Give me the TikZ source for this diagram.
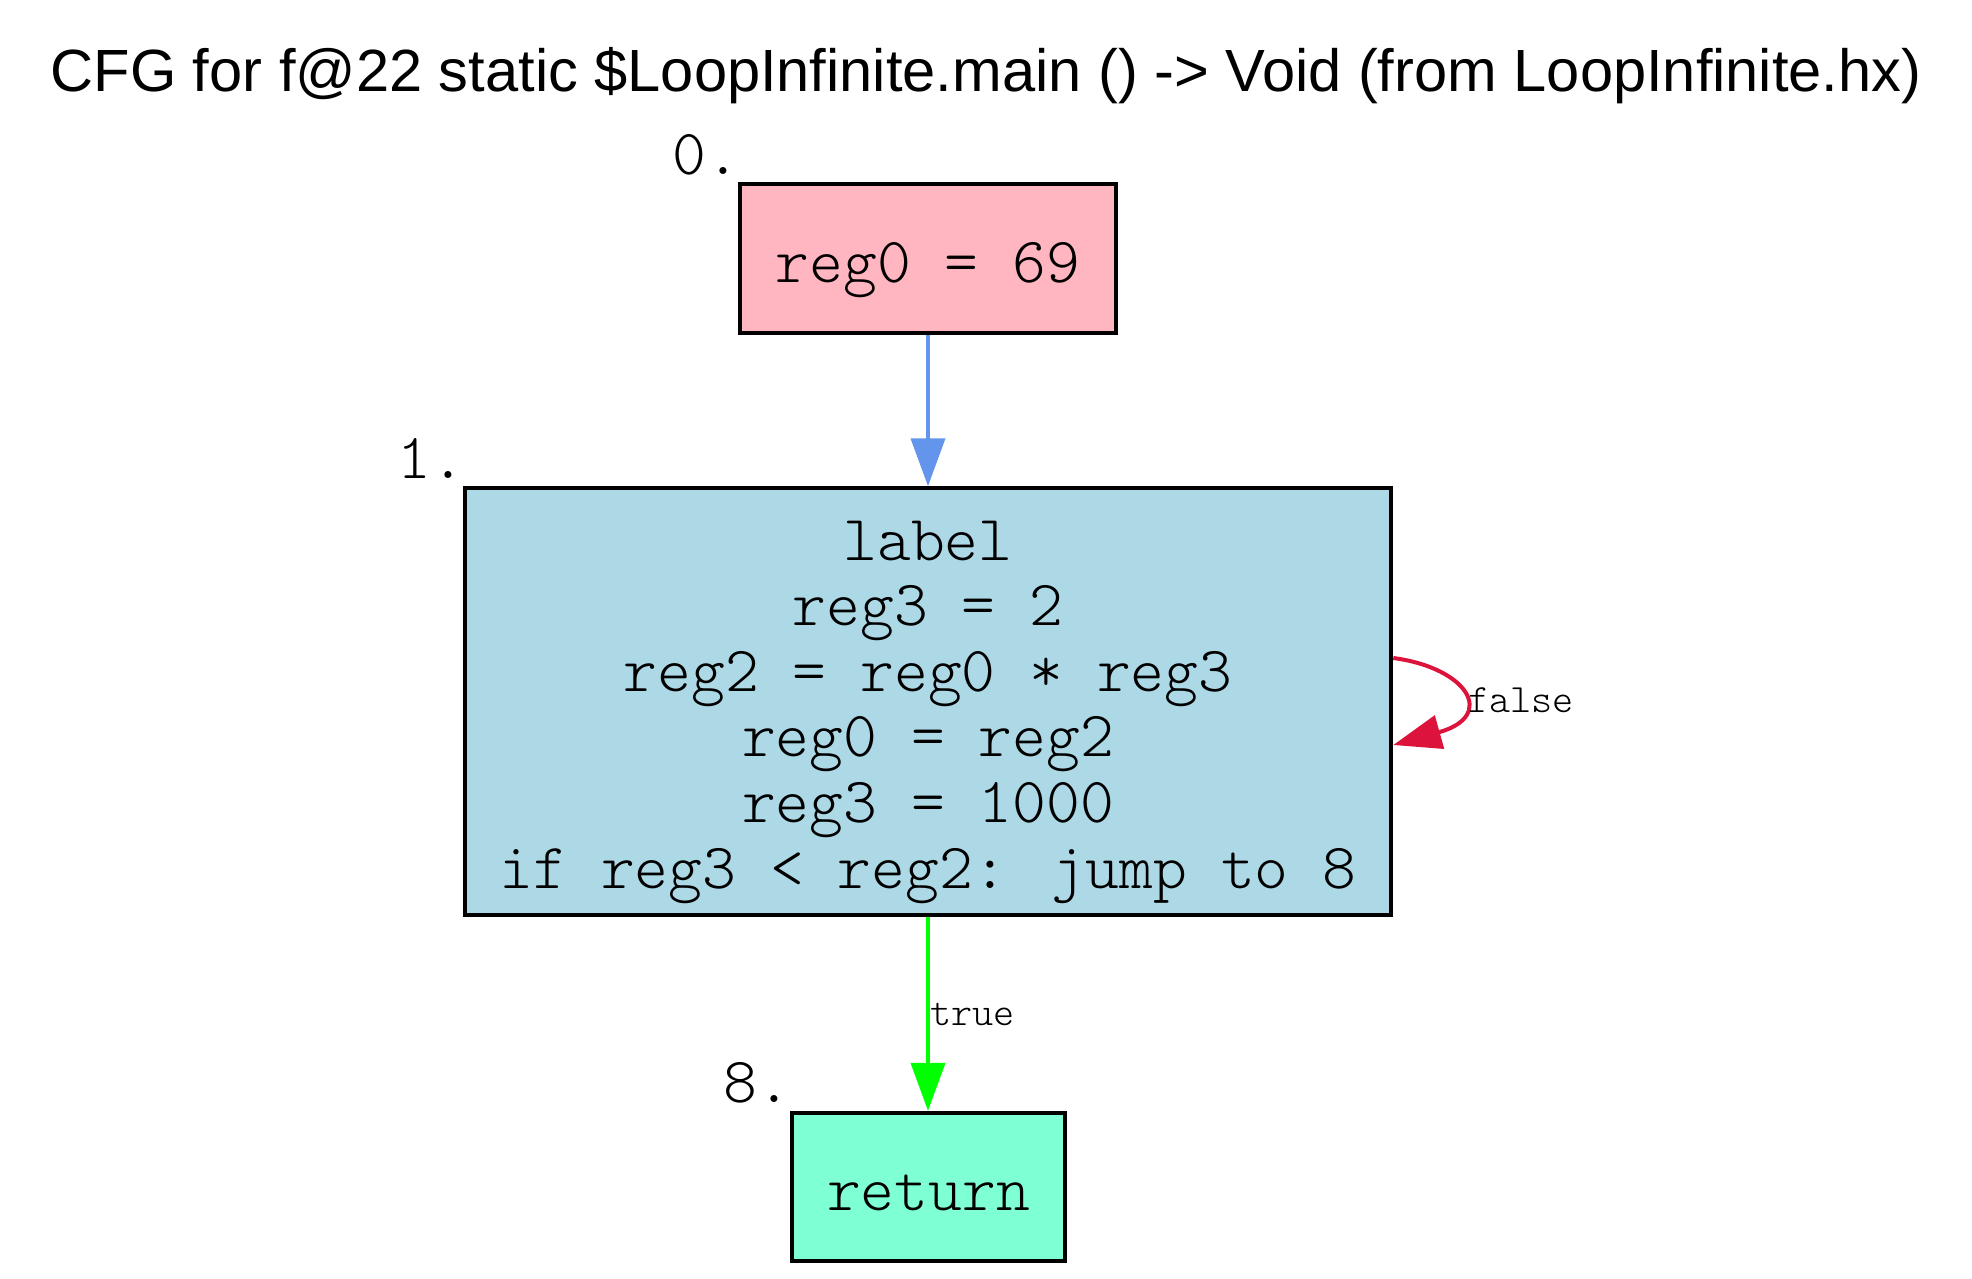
\documentclass[tikz,border=0pt]{standalone}
\usepackage{fontspec}
\setmainfont{Liberation Sans}
\newfontfamily\cfgmono{Latin Modern Mono Light}
\usetikzlibrary{arrows.meta,calc}
\definecolor{nodepink}{HTML}{FFB6C1}
\definecolor{nodeblue}{HTML}{ADD8E6}
\definecolor{nodeaqua}{HTML}{7FFFD4}
\definecolor{edgeblue}{HTML}{6495ED}
\definecolor{edgegreen}{HTML}{00FF00}
\definecolor{edgered}{HTML}{DC143C}
\begin{document}
\begin{tikzpicture}[x=0.5pt,y=-0.5pt,
  block/.style={draw=black,line width=2pt,rectangle,inner sep=0pt,
    font=\cfgmono\fontsize{32.2}{32.83}\selectfont},
  oneline/.style={text height=29pt,text depth=5.75pt},
  idlabel/.style={font=\cfgmono\fontsize{32.2}{32.83}\selectfont,inner sep=0pt,anchor=base east},
  edgelabel/.style={font=\cfgmono\fontsize{20.1}{22}\selectfont,inner sep=0pt,anchor=base west},
  flow/.style={line width=2pt,-{Triangle[length=24pt,width=17pt]}},
]
\fill[white] (0,0) rectangle (1972,1279);
\useasboundingbox (0,0) rectangle (1972,1279);

\node[anchor=base,inner sep=0pt,font=\fontsize{29.8}{34}\selectfont] (title) at (986,92)
  {CFG for f@22 static \$LoopInfinite.main () -> Void (from LoopInfinite.hx)};

\node[block,oneline,fill=nodepink,minimum width=188pt,minimum height=74.25pt] (n0) at (928,258.75) {reg0 = 69};
\node[block,fill=nodeblue,minimum width=463.3pt,minimum height=213.35pt,align=center,
  text height=192.7pt,text depth=6pt] (n1) at (928,701.6)
  {label\\reg3 = 2\\reg2 = reg0 * reg3\\reg0 = reg2\\reg3 = 1000\\if reg3 < reg2: jump to 8};
\node[block,oneline,fill=nodeaqua,minimum width=136.5pt,minimum height=74.15pt] (n8) at (928.5,1187) {return};

\node[idlabel] (l0) at (740.4,175) {0.};
\node[idlabel] (l1) at (465.4,478.5) {1.};
\node[idlabel] (l8) at (792,1102.7) {8.};

\draw[flow,edgeblue] (n0.south) -- (n1.north);
\draw[flow,edgegreen] (n1.south) -- (n1.south |- n8.north);
\draw[flow,edgered] ([yshift=21.8pt]n1.east) .. controls (1468,668) and (1497,716) .. ([yshift=-21.7pt]n1.east);

\node[edgelabel] (tlab) at (930,1025) {true};
\node[edgelabel] (flab) at (1468,712.7) {false};
\end{tikzpicture}
\end{document}
